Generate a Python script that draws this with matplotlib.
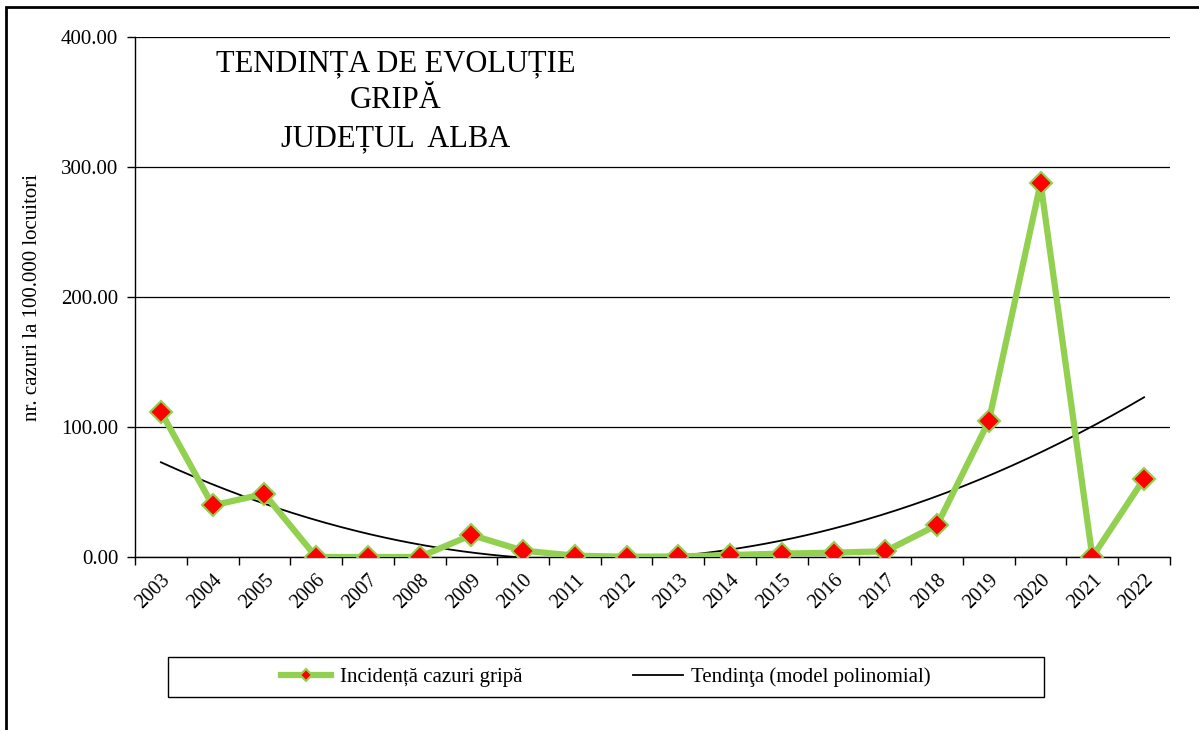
import matplotlib.pyplot as plt
import numpy as np
from matplotlib.patches import Rectangle

plt.rcParams['font.family'] = ['Liberation Serif', 'DejaVu Serif']

years = ["2003", "2004", "2005", "2006", "2007", "2008", "2009", "2010", "2011", "2012",
         "2013", "2014", "2015", "2016", "2017", "2018", "2019", "2020", "2021", "2022"]
incidence = [111.8, 39.7, 48.5, 0.0, 0.0, 0.0, 16.9, 4.9, 1.0, 0.2,
             0.4, 1.5, 2.6, 3.3, 4.4, 24.6, 104.6, 287.7, 0.0, 60.3]
y_ticks = [0, 100, 200, 300, 400]

fig = plt.figure(figsize=(11.99, 7.30), dpi=100)
ax = fig.add_axes([0.1126, 0.237, 0.8632, 0.7123])

x = np.arange(len(years))
# trend line: 2nd order polynomial fitted to the data (like the Excel trendline)
coef = np.polyfit(x + 1, incidence, 2)
xs = np.linspace(0, len(years) - 1, 300)
ax.plot(xs, np.polyval(coef, xs + 1), color="black", lw=1.3, zorder=3,
        label="Tendinţa (model polinomial)")

ax.plot(x, incidence, color="#92D050", lw=4.5, marker="D", markersize=11,
        markerfacecolor="red", markeredgecolor="#92D050", markeredgewidth=1.5,
        zorder=4, label="Incidență cazuri gripă")

ax.set_xlim(-0.5, len(years) - 0.5)
ax.set_ylim(0, 400)
ax.set_yticks(y_ticks)
ax.set_yticklabels([f"{v:.2f}" for v in y_ticks], fontsize=15)
ax.yaxis.grid(True, color="black", lw=0.9)
ax.set_axisbelow(True)

ax.set_xticks(x)
ax.set_xticklabels(years, rotation=45, ha="right", va="top", rotation_mode="anchor", fontsize=14.5)
ax.set_xticks(np.arange(-0.5, len(years)), minor=True)
ax.tick_params(axis="x", which="major", length=0, pad=10)
ax.tick_params(axis="x", which="minor", length=6, direction="out", width=1)
ax.tick_params(axis="y", length=6, width=1, pad=6)

for s in ["top", "right"]:
    ax.spines[s].set_visible(False)
ax.spines["left"].set_linewidth(1)
ax.spines["bottom"].set_linewidth(1)

ax.set_ylabel("nr. cazuri la 100.000 locuitori", fontsize=15, labelpad=14)

ax.text(0.252, 0.877, "TENDINȚA DE EVOLUȚIE\nGRIPĂ\nJUDEȚUL  ALBA", transform=ax.transAxes,
        ha="center", va="center", fontsize=22, linespacing=1.38)

# legend frame drawn separately so the entries can sit centred inside it
fig.patches.append(Rectangle((168 / 1199, 1 - 697 / 730), 876 / 1199, 40 / 730,
                             transform=fig.transFigure, fill=False, lw=1, edgecolor="black"))
h, l = ax.get_legend_handles_labels()
leg = fig.legend(h[::-1], l[::-1], ncol=2, loc="center",
                 bbox_to_anchor=(606 / 1199, 1 - 677 / 730), fontsize=15,
                 frameon=False, borderaxespad=0, handlelength=2.4, handletextpad=0.4,
                 columnspacing=5.3, markerscale=0.6)

# outer chart border
fig.patches.append(Rectangle((6 / 1199, -0.1), 1.1, 0.1 + (730 - 7) / 730,
                             transform=fig.transFigure, fill=False, lw=2, edgecolor="black"))

fig.savefig("out.png", dpi=100)
